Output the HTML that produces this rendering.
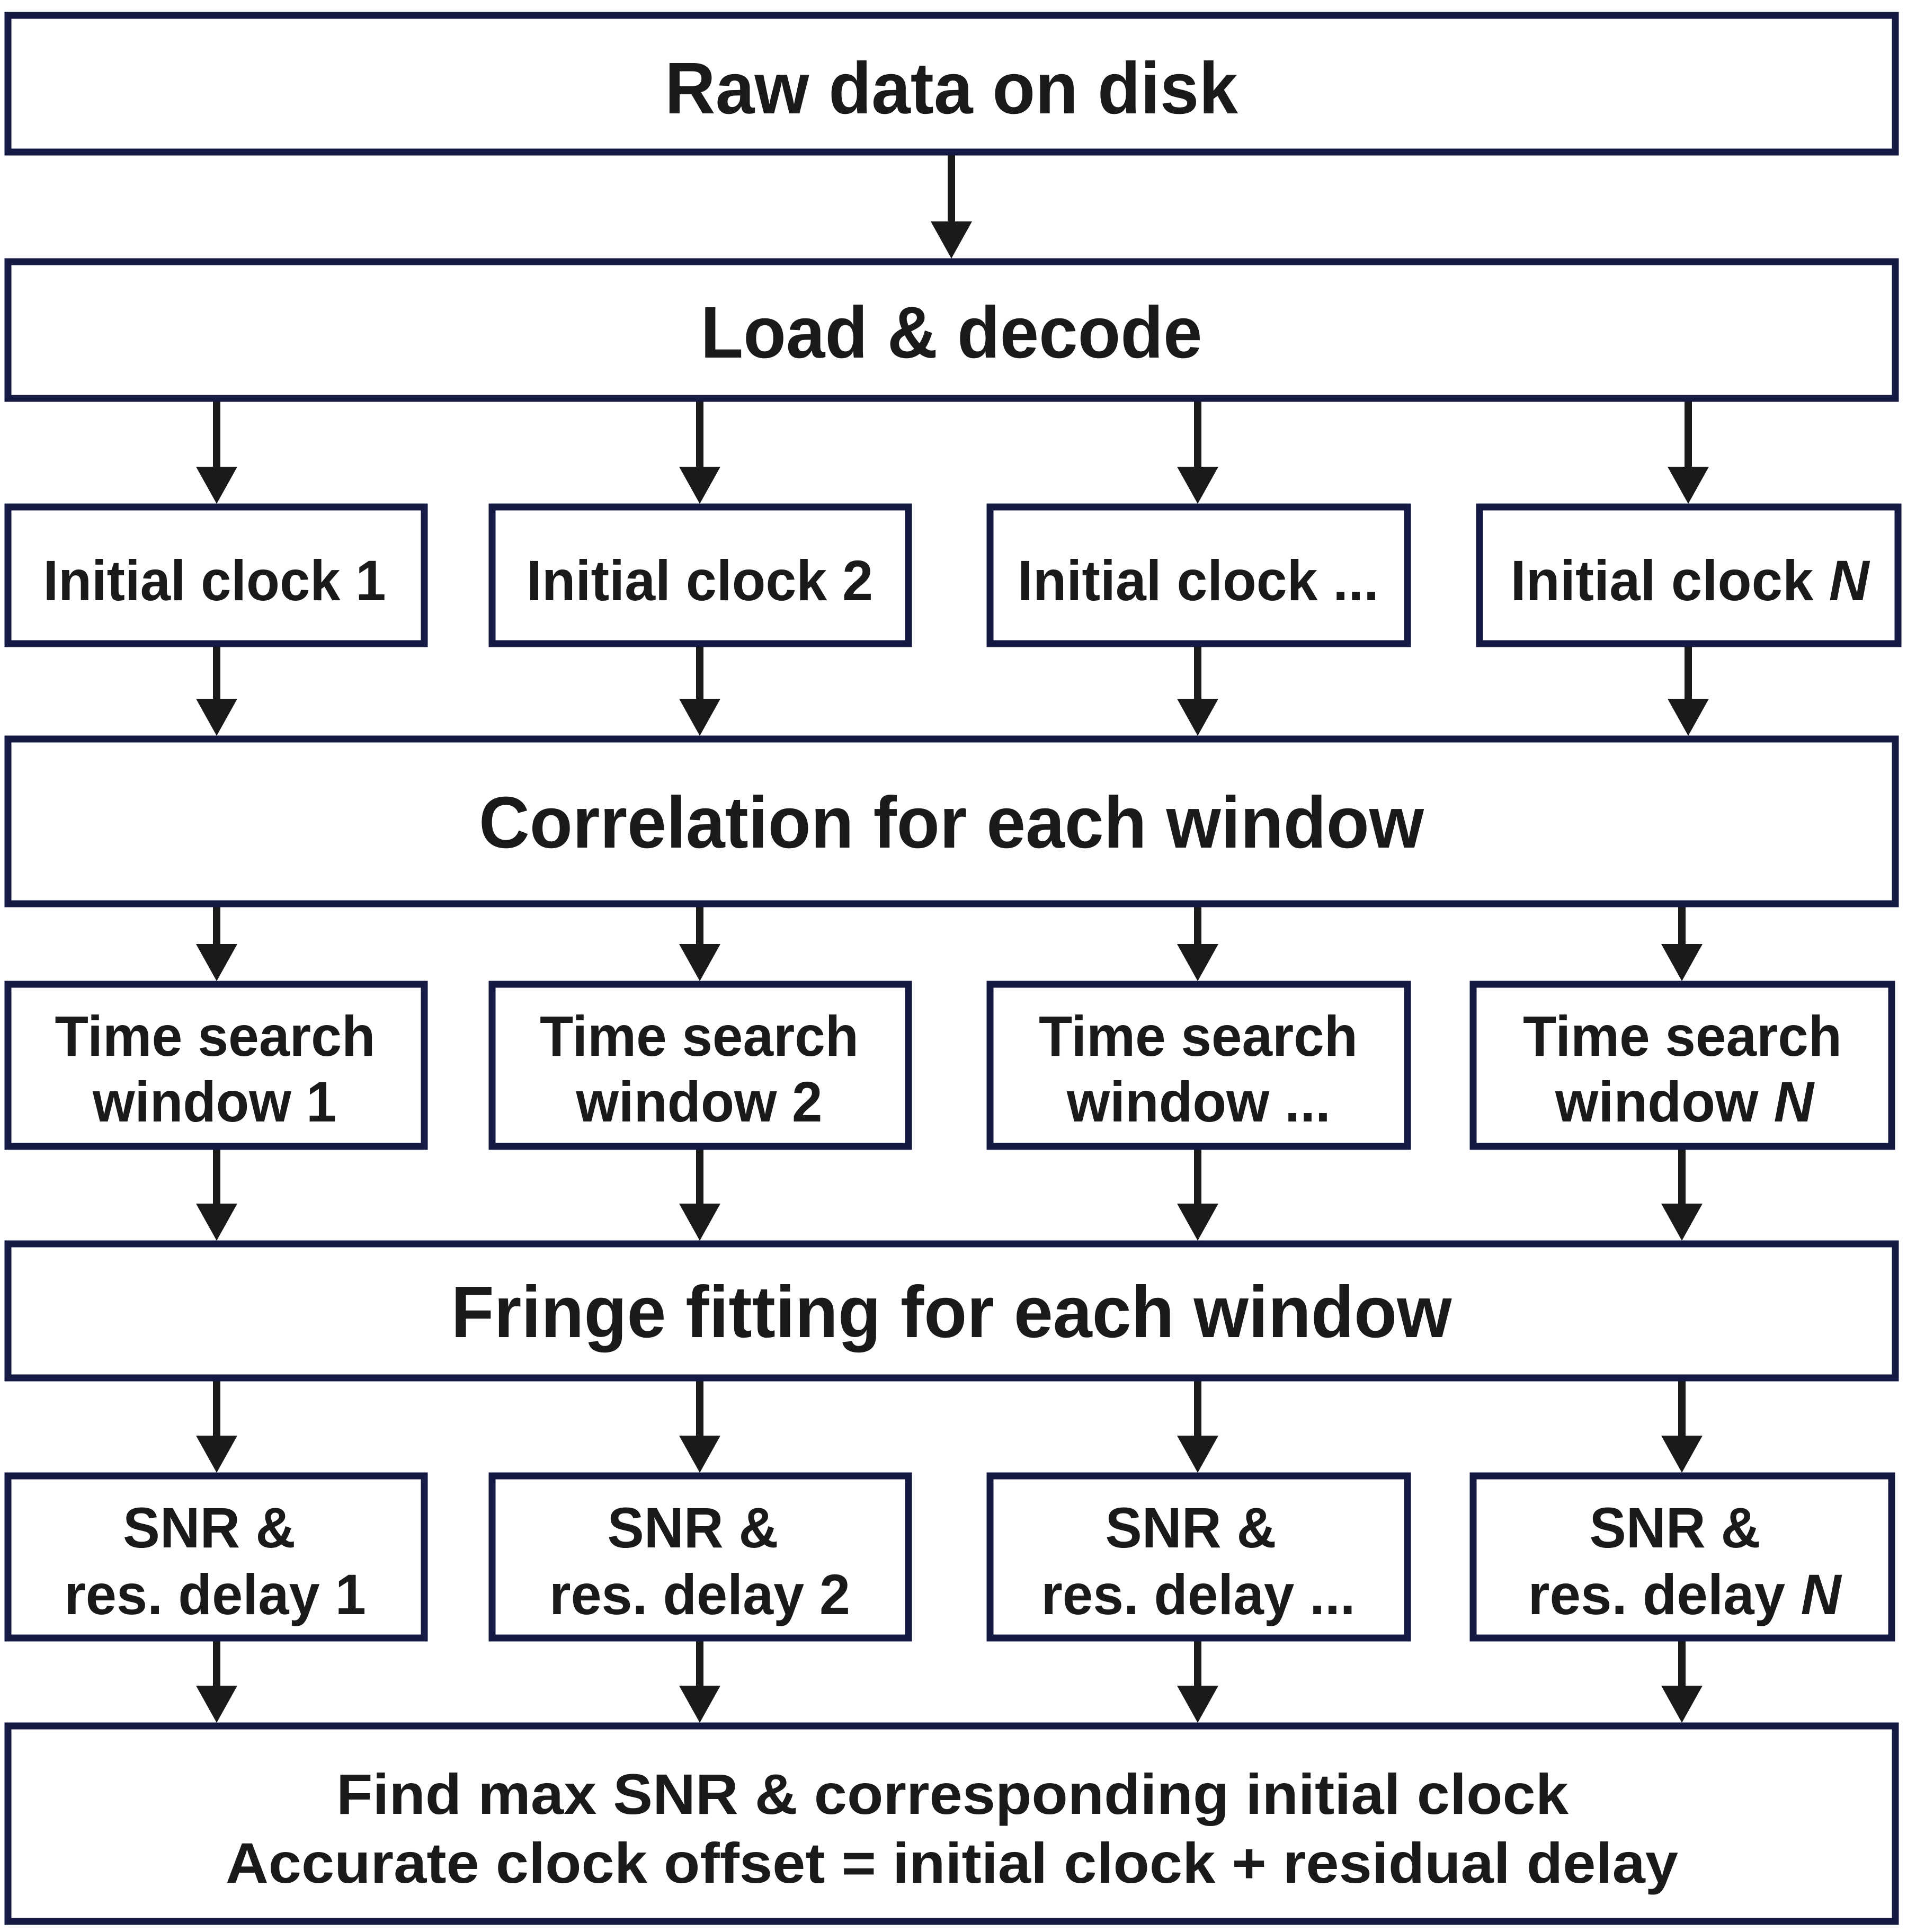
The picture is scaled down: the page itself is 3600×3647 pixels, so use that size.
<!DOCTYPE html>
<html><head><meta charset="utf-8"><style>
html,body{margin:0;padding:0;background:#fff;}
svg{display:block;}
text{font-family:"Liberation Sans",Arial,sans-serif;font-weight:bold;fill:#1a1a1a;text-anchor:middle;}
.b{fill:#fff;stroke:#141a44;stroke-width:13;}
.s{stroke:#1a1a1a;stroke-width:14;}
.h{fill:#1a1a1a;}
</style></head><body>
<svg width="3600" height="3647" viewBox="0 0 3600 3647" xmlns="http://www.w3.org/2000/svg">
<!-- arrows -->
<g>
<line class="s" x1="1796" y1="293" x2="1796" y2="430"/><polygon class="h" points="1757,418 1835,418 1796,488"/>
<line class="s" x1="409" y1="758" x2="409" y2="890"/><polygon class="h" points="370,881 448,881 409,951"/>
<line class="s" x1="1321" y1="758" x2="1321" y2="890"/><polygon class="h" points="1282,881 1360,881 1321,951"/>
<line class="s" x1="2261" y1="758" x2="2261" y2="890"/><polygon class="h" points="2222,881 2300,881 2261,951"/>
<line class="s" x1="3187" y1="758" x2="3187" y2="890"/><polygon class="h" points="3148,881 3226,881 3187,951"/>

<line class="s" x1="409" y1="1221" x2="409" y2="1330"/><polygon class="h" points="370,1319 448,1319 409,1389"/>
<line class="s" x1="1321" y1="1221" x2="1321" y2="1330"/><polygon class="h" points="1282,1319 1360,1319 1321,1389"/>
<line class="s" x1="2261" y1="1221" x2="2261" y2="1330"/><polygon class="h" points="2222,1319 2300,1319 2261,1389"/>
<line class="s" x1="3187" y1="1221" x2="3187" y2="1330"/><polygon class="h" points="3148,1319 3226,1319 3187,1389"/>

<line class="s" x1="409" y1="1712" x2="409" y2="1790"/><polygon class="h" points="370,1782 448,1782 409,1852"/>
<line class="s" x1="1321" y1="1712" x2="1321" y2="1790"/><polygon class="h" points="1282,1782 1360,1782 1321,1852"/>
<line class="s" x1="2261" y1="1712" x2="2261" y2="1790"/><polygon class="h" points="2222,1782 2300,1782 2261,1852"/>
<line class="s" x1="3175" y1="1712" x2="3175" y2="1790"/><polygon class="h" points="3136,1782 3214,1782 3175,1852"/>

<line class="s" x1="409" y1="2170" x2="409" y2="2280"/><polygon class="h" points="370,2272 448,2272 409,2342"/>
<line class="s" x1="1321" y1="2170" x2="1321" y2="2280"/><polygon class="h" points="1282,2272 1360,2272 1321,2342"/>
<line class="s" x1="2261" y1="2170" x2="2261" y2="2280"/><polygon class="h" points="2222,2272 2300,2272 2261,2342"/>
<line class="s" x1="3175" y1="2170" x2="3175" y2="2280"/><polygon class="h" points="3136,2272 3214,2272 3175,2342"/>

<line class="s" x1="409" y1="2607" x2="409" y2="2720"/><polygon class="h" points="370,2710 448,2710 409,2780"/>
<line class="s" x1="1321" y1="2607" x2="1321" y2="2720"/><polygon class="h" points="1282,2710 1360,2710 1321,2780"/>
<line class="s" x1="2261" y1="2607" x2="2261" y2="2720"/><polygon class="h" points="2222,2710 2300,2710 2261,2780"/>
<line class="s" x1="3175" y1="2607" x2="3175" y2="2720"/><polygon class="h" points="3136,2710 3214,2710 3175,2780"/>

<line class="s" x1="409" y1="3098" x2="409" y2="3190"/><polygon class="h" points="370,3182 448,3182 409,3252"/>
<line class="s" x1="1321" y1="3098" x2="1321" y2="3190"/><polygon class="h" points="1282,3182 1360,3182 1321,3252"/>
<line class="s" x1="2261" y1="3098" x2="2261" y2="3190"/><polygon class="h" points="2222,3182 2300,3182 2261,3252"/>
<line class="s" x1="3175" y1="3098" x2="3175" y2="3190"/><polygon class="h" points="3136,3182 3214,3182 3175,3252"/>
</g>
<!-- boxes -->
<rect class="b" x="15" y="29" width="3563" height="258"/>
<rect class="b" x="15" y="494" width="3563" height="258"/>
<rect class="b" x="15" y="957" width="786" height="258"/>
<rect class="b" x="929" y="957" width="786" height="258"/>
<rect class="b" x="1869" y="957" width="788" height="258"/>
<rect class="b" x="2793" y="957" width="790" height="258"/>
<rect class="b" x="15" y="1395" width="3563" height="311"/>
<rect class="b" x="15" y="1858" width="786" height="306"/>
<rect class="b" x="929" y="1858" width="786" height="306"/>
<rect class="b" x="1869" y="1858" width="788" height="306"/>
<rect class="b" x="2781" y="1858" width="790" height="306"/>
<rect class="b" x="15" y="2348" width="3563" height="253"/>
<rect class="b" x="15" y="2786" width="786" height="306"/>
<rect class="b" x="929" y="2786" width="786" height="306"/>
<rect class="b" x="1869" y="2786" width="788" height="306"/>
<rect class="b" x="2781" y="2786" width="790" height="306"/>
<rect class="b" x="15" y="3258" width="3563" height="369"/>
<!-- text -->
<text x="1796" y="214" font-size="138" textLength="1082" lengthAdjust="spacingAndGlyphs">Raw data on disk</text>
<text x="1796" y="675" font-size="138" textLength="947" lengthAdjust="spacingAndGlyphs">Load &amp; decode</text>

<text x="405" y="1133" font-size="108" textLength="647" lengthAdjust="spacingAndGlyphs">Initial clock 1</text>
<text x="1321" y="1133" font-size="108" textLength="654" lengthAdjust="spacingAndGlyphs">Initial clock 2</text>
<text x="2262" y="1133" font-size="108" textLength="682" lengthAdjust="spacingAndGlyphs">Initial clock ...</text>
<text x="3190" y="1133" font-size="108" textLength="677" lengthAdjust="spacingAndGlyphs">Initial clock <tspan font-style="italic">N</tspan></text>

<text x="1796" y="1600" font-size="138" textLength="1784" lengthAdjust="spacingAndGlyphs">Correlation for each window</text>

<text x="406" y="1993" font-size="108" textLength="605" lengthAdjust="spacingAndGlyphs">Time search</text>
<text x="405" y="2117" font-size="108" textLength="460" lengthAdjust="spacingAndGlyphs">window 1</text>
<text x="1320" y="1993" font-size="108" textLength="602" lengthAdjust="spacingAndGlyphs">Time search</text>
<text x="1320" y="2117" font-size="108" textLength="465" lengthAdjust="spacingAndGlyphs">window 2</text>
<text x="2262" y="1993" font-size="108" textLength="602" lengthAdjust="spacingAndGlyphs">Time search</text>
<text x="2263" y="2117" font-size="108" textLength="498" lengthAdjust="spacingAndGlyphs">window ...</text>
<text x="3176" y="1993" font-size="108" textLength="602" lengthAdjust="spacingAndGlyphs">Time search</text>
<text x="3180" y="2117" font-size="108" textLength="488" lengthAdjust="spacingAndGlyphs">window <tspan font-style="italic">N</tspan></text>

<text x="1796" y="2524" font-size="138" textLength="1889" lengthAdjust="spacingAndGlyphs">Fringe fitting for each window</text>

<text x="395" y="2921" font-size="108" textLength="326" lengthAdjust="spacingAndGlyphs">SNR &amp;</text>
<text x="406" y="3047" font-size="108" textLength="570" lengthAdjust="spacingAndGlyphs">res. delay 1</text>
<text x="1308" y="2921" font-size="108" textLength="323" lengthAdjust="spacingAndGlyphs">SNR &amp;</text>
<text x="1321" y="3047" font-size="108" textLength="568" lengthAdjust="spacingAndGlyphs">res. delay 2</text>
<text x="2248" y="2921" font-size="108" textLength="323" lengthAdjust="spacingAndGlyphs">SNR &amp;</text>
<text x="2262" y="3047" font-size="108" textLength="593" lengthAdjust="spacingAndGlyphs">res. delay ...</text>
<text x="3162" y="2921" font-size="108" textLength="323" lengthAdjust="spacingAndGlyphs">SNR &amp;</text>
<text x="3180" y="3047" font-size="108" textLength="591" lengthAdjust="spacingAndGlyphs">res. delay <tspan font-style="italic">N</tspan></text>

<text x="1798" y="3424" font-size="108" textLength="2326" lengthAdjust="spacingAndGlyphs">Find max SNR &amp; corresponding initial clock</text>
<text x="1797" y="3554" font-size="108" textLength="2742" lengthAdjust="spacingAndGlyphs">Accurate clock offset = initial clock + residual delay</text>
</svg>
</body></html>
